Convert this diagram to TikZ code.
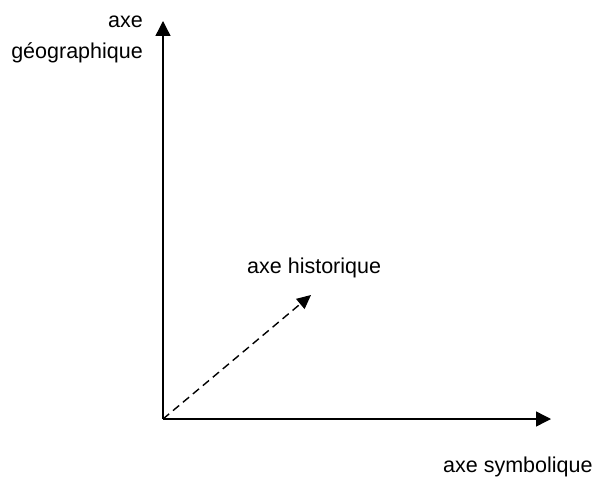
\documentclass[tikz,border=0pt]{standalone}
\usepackage{fontspec}
\setmainfont{Liberation Sans}
\usetikzlibrary{arrows.meta}
\tikzset{
  axe/.style={-{Triangle[length=15pt,width=15pt]},draw=black,line width=1.4pt},
  axedash/.style={-{Triangle[length=14pt,width=13pt]},draw=black,line width=1.4pt,
                  dash pattern=on 8pt off 5pt},
  titre/.style={inner sep=0pt,font=\fontsize{21.5}{31}\selectfont}
}
\begin{document}
\begin{tikzpicture}[x=1pt,y=-1pt]
  \useasboundingbox (0,0) rectangle (593,478);
  \coordinate (origine) at (163,419);
  \coordinate (geo) at (163,21);
  \coordinate (sym) at (551,419);
  \coordinate (hist) at (311,295);
  \draw[axe] (origine) -- (geo);
  \draw[axe] (origine) -- (sym);
  \draw[axedash] (origine) -- (hist);

  \node[titre,align=right,anchor=base east] (lgeo) at (143,59)
    {axe\\géographique};
  \node[titre,anchor=base west] (lhist) at (247,273) {axe historique};
  \node[titre,anchor=base west] (lsym) at (443,472) {axe symbolique};
\end{tikzpicture}
\end{document}
